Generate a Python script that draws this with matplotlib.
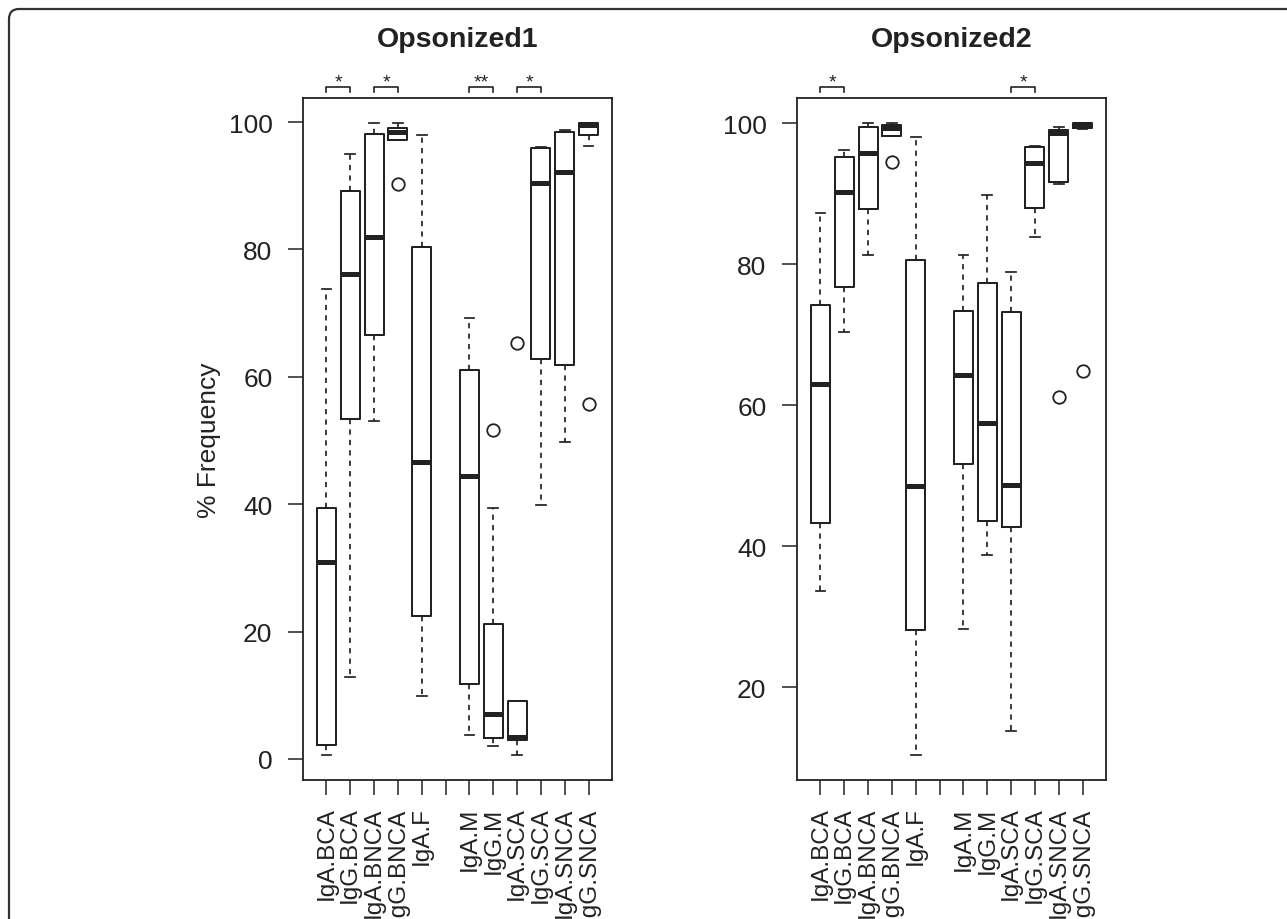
import matplotlib
matplotlib.use("Agg")
import matplotlib.pyplot as plt
from matplotlib.patches import FancyBboxPatch
from matplotlib.transforms import IdentityTransform, blended_transform_factory

plt.rcParams['font.family'] = ['Liberation Sans', 'DejaVu Sans']

# ---------------- data ----------------
tick_labels = ["IgA.BCA", "IgG.BCA", "IgA.BNCA", "IgG.BNCA", "IgA.F", "",
               "IgA.M", "IgG.M", "IgA.SCA", "IgG.SCA", "IgA.SNCA", "IgG.SNCA"]
box_positions = [1, 2, 3, 4, 5, 7, 8, 9, 10, 11, 12]

titles = ["Opsonized1", "Opsonized2"]
y_label = "% Frequency"

# Opsonized1
op1_whislo = [0.7, 12.8, 53.1, 97.1, 9.9, 3.7, 2.1, 0.7, 39.9, 49.8, 96.3]
op1_q1     = [2.2, 53.3, 66.6, 97.1, 22.5, 11.8, 3.3, 3.0, 62.8, 61.9, 97.9]
op1_med    = [30.9, 76.1, 81.9, 98.5, 46.7, 44.4, 7.0, 3.4, 90.5, 92.2, 99.5]
op1_q3     = [39.4, 89.2, 98.1, 99.1, 80.3, 61.0, 21.2, 9.1, 95.9, 98.5, 99.8]
op1_whishi = [73.8, 94.9, 99.8, 99.8, 97.9, 69.3, 39.4, 9.1, 96.1, 98.7, 99.8]
op1_fliers = [[], [], [], [90.2], [], [], [51.7], [65.3], [], [], [55.7]]
op1_sig = [(1, 2, "*"), (3, 4, "*"), (7, 8, "**"), (9, 10, "*")]
op1_yticks = [0, 20, 40, 60, 80, 100]

# Opsonized2
op2_whislo = [33.6, 70.4, 81.3, 98.1, 10.4, 28.2, 38.7, 13.7, 83.9, 91.4, 99.2]
op2_q1     = [43.3, 76.7, 87.8, 98.1, 28.1, 51.6, 43.6, 42.7, 88.0, 91.7, 99.3]
op2_med    = [63.0, 90.2, 95.7, 99.3, 48.5, 64.3, 57.4, 48.7, 94.3, 98.6, 99.7]
op2_q3     = [74.2, 95.2, 99.4, 99.7, 80.6, 73.4, 77.3, 73.2, 96.6, 99.05, 99.95]
op2_whishi = [87.3, 96.2, 99.95, 99.95, 98.0, 81.3, 89.8, 78.8, 96.8, 99.5, 99.97]
op2_fliers = [[], [], [], [94.5], [], [], [], [], [], [61.1], [64.8]]
op2_sig = [(1, 2, "*"), (9, 10, "*")]
op2_yticks = [20, 40, 60, 80, 100]

# ---------------- figure ----------------
W, H = 1287, 920
fig = plt.figure(figsize=(W / 100, H / 100), dpi=100)

INK = "#222222"

# outer rounded frame (journal figure border)
frame = FancyBboxPatch((9, -30), 1330, 940,
                       boxstyle="round,pad=0,rounding_size=10",
                       transform=IdentityTransform(), fill=False,
                       lw=1.6, ec="#333333")
fig.add_artist(frame)


def make_panel(left_px, whislo, q1, med, q3, whishi, fliers, sig, yticks, ylim, title):
    ax = fig.add_axes([left_px / W, 1 - 781 / H, 309 / W, 682 / H])
    stats = []
    for k in range(len(box_positions)):
        stats.append(dict(whislo=whislo[k], q1=q1[k], med=med[k], q3=q3[k],
                          whishi=whishi[k], fliers=fliers[k]))
    ax.bxp(stats, positions=box_positions, widths=0.8, capwidths=0.4,
           boxprops=dict(color=INK, lw=1.45),
           whiskerprops=dict(color=INK, lw=1.25, linestyle=(0, (3, 3))),
           capprops=dict(color=INK, lw=1.25),
           medianprops=dict(color=INK, lw=3.6, solid_capstyle="butt"),
           flierprops=dict(marker="o", markerfacecolor="none",
                           markeredgecolor=INK, markersize=9, markeredgewidth=1.3),
           manage_ticks=False)
    ax.set_xlim(0.02, 12.98)
    ax.set_ylim(*ylim)
    ax.set_xticks(range(1, 13))
    ax.set_xticklabels(tick_labels, rotation=90, va="top", ha="center")
    ax.set_yticks(yticks)
    ax.set_yticklabels([str(v) for v in yticks])
    ax.tick_params(axis="y", length=11, width=1.1, color=INK, labelsize=19,
                   pad=11, labelcolor=INK)
    ax.tick_params(axis="x", length=11, width=1.1, color=INK, labelsize=17.5,
                   pad=8, labelcolor=INK)
    for s in ax.spines.values():
        s.set_linewidth(1.3)
        s.set_color(INK)

    trans = blended_transform_factory(ax.transData, ax.transAxes)
    f_bar = (781 - 88.3) / 682
    f_foot = (781 - 93.0) / 682
    f_txt = (781 - 87.0) / 682
    for a, b, lab in sig:
        ax.plot([a, a, b, b], [f_foot, f_bar, f_bar, f_foot], transform=trans,
                clip_on=False, color=INK, lw=1.2)
        ax.text((a + b) / 2, f_txt, lab, transform=trans, ha="center",
                va="baseline", fontsize=14, color=INK)

    fig.text((left_px + 154.5) / W, 1 - 47 / H, title, ha="center",
             va="baseline", fontsize=20.5, fontweight="bold", color=INK)
    return ax


make_panel(303, op1_whislo, op1_q1, op1_med, op1_q3, op1_whishi, op1_fliers,
           op1_sig, op1_yticks, (-3.30, 103.77), titles[0])
make_panel(797, op2_whislo, op2_q1, op2_med, op2_q3, op2_whishi, op2_fliers,
           op2_sig, op2_yticks, (6.81, 103.55), titles[1])

fig.text(209 / W, 1 - 440 / H, y_label, rotation=90, ha="center", va="center",
         fontsize=19, color=INK)

fig.savefig("out.png", dpi=100)
